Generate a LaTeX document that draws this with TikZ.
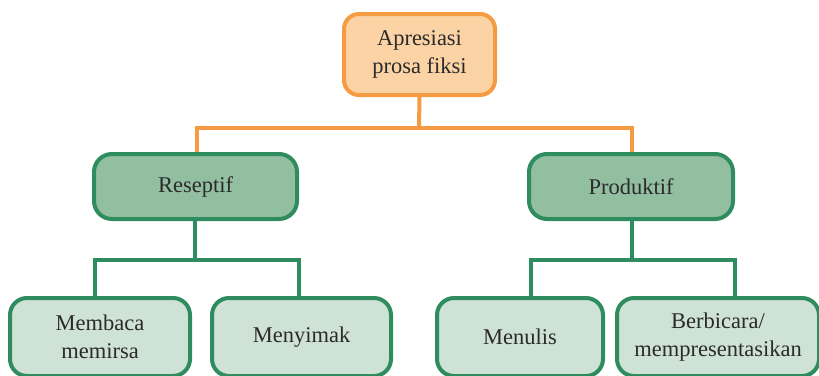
\documentclass[tikz,border=0pt]{standalone}
\usepackage{fontspec}
\setmainfont{Liberation Serif}
\usetikzlibrary{backgrounds}

\definecolor{orangeline}{HTML}{F59B42}
\definecolor{orangefill}{HTML}{FCD3A5}
\definecolor{greenline}{HTML}{2E8C5E}
\definecolor{greenmid}{HTML}{93BFA1}
\definecolor{greenlight}{HTML}{CFE2D6}
\definecolor{textgray}{HTML}{2B2B2B}

\tikzset{
  box/.style={draw, line width=4pt, align=center, inner sep=0pt,
    text=textgray, font=\fontsize{22.5}{28.5}\selectfont},
  rootbox/.style={box, draw=orangeline, fill=orangefill, rounded corners=15pt},
  midbox/.style={box, draw=greenline, fill=greenmid, rounded corners=18pt},
  leafbox/.style={box, draw=greenline, fill=greenlight, rounded corners=17pt},
  orangelink/.style={draw=orangeline, line width=4pt},
  greenlink/.style={draw=greenline, line width=4pt},
}

\begin{document}
\begin{tikzpicture}[x=1pt, y=-1pt]
  \useasboundingbox (0,0) rectangle (819,375);
  \clip (0,0) rectangle (819,375);

  % top level
  \node[rootbox, minimum width=151pt, minimum height=81pt] (apr) at (419.5,54.5)
    {Apresiasi\\prosa fiksi};

  % second level
  \node[midbox, minimum width=203pt, minimum height=65pt] (res) at (195.5,186.5) {Reseptif};
  \node[midbox, minimum width=204pt, minimum height=65pt] (pro) at (631,186.5) {Produktif};

  % leaves
  \node[leafbox, minimum width=180pt, minimum height=78pt] (mem) at (100,337)
    {Membaca\\memirsa};
  \node[leafbox, minimum width=179pt, minimum height=78pt] (nyi) at (301.5,337) {Menyimak};
  \node[leafbox, minimum width=166pt, minimum height=78pt] (nul) at (520,337) {Menulis};
  \node[leafbox, minimum width=202pt, minimum height=78pt] (ber) at (718,337)
    {Berbicara/\\mempresentasikan};

  % junction points of the connectors
  \coordinate (j1) at (419,128);
  \coordinate (j2) at (195,260);
  \coordinate (j3) at (632,260);

  \begin{scope}[on background layer]
    \draw[orangelink] (apr.south) -- (j1);
    \draw[orangelink, line join=miter] (j1) -| ([xshift=1.5pt]res.north);
    \draw[orangelink, line join=miter] (j1) -| ([xshift=1pt]pro.north);

    \draw[greenlink] ([xshift=-0.5pt]res.south) -- (j2);
    \draw[greenlink, line join=miter] (j2) -| ([xshift=-5pt]mem.north);
    \draw[greenlink, line join=miter] (j2) -| ([xshift=-2.5pt]nyi.north);

    \draw[greenlink] ([xshift=1pt]pro.south) -- (j3);
    \draw[greenlink, line join=miter] (j3) -| ([xshift=11pt]nul.north);
    \draw[greenlink, line join=miter] (j3) -| ([xshift=17pt]ber.north);
  \end{scope}
\end{tikzpicture}
\end{document}
